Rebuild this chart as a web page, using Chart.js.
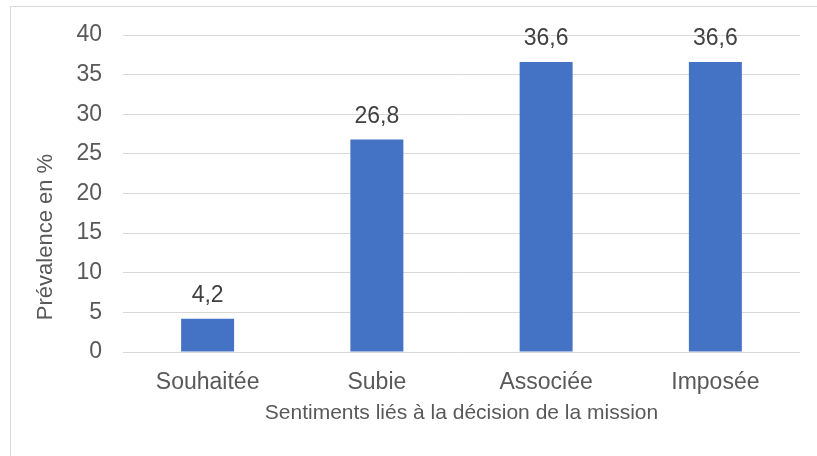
<!DOCTYPE html>
<html>
<head>
<meta charset="utf-8">
<script src="https://cdn.jsdelivr.net/npm/chart.js@4"></script>
<style>
  html, body { margin: 0; padding: 0; background: #fff; }
  #wrap { position: relative; width: 817px; height: 456px; overflow: hidden; }
  #frame { position: absolute; left: 10px; top: 6px; width: 900px; height: 500px; border: 1px solid #d9d9d9; }
  canvas { position: absolute; left: 0; top: 0; }
</style>
</head>
<body>
<div id="wrap">
  <div id="frame"></div>
  <canvas id="chart1" width="817" height="456"></canvas>
</div>
<script>
var categories = ['Souhaitée', 'Subie', 'Associée', 'Imposée'];
var prevalence = [4.2, 26.8, 36.6, 36.6];
var yTicks = [0, 5, 10, 15, 20, 25, 30, 35, 40];

var fontName = "'Liberation Sans', Arial, sans-serif";

// data labels above bars, french decimal comma
const barLabels = {
  id: 'barLabels',
  afterDatasetsDraw(chart) {
    const ctx = chart.ctx;
    const meta = chart.getDatasetMeta(0);
    ctx.save();
    ctx.font = '23px ' + fontName;
    ctx.fillStyle = '#404040';
    ctx.textAlign = 'center';
    ctx.textBaseline = 'alphabetic';
    meta.data.forEach(function(bar, i) {
      var txt = prevalence[i].toFixed(1).replace('.', ',');
      ctx.fillText(txt, bar.x, bar.y - 17);
    });
    ctx.restore();
  }
};

// y axis title sits lower than centre in the original
const yTitle = {
  id: 'yTitle',
  afterDraw(chart) {
    const ctx = chart.ctx;
    ctx.save();
    ctx.translate(46, 237);
    ctx.rotate(-Math.PI / 2);
    ctx.font = '22px ' + fontName;
    ctx.fillStyle = '#595959';
    ctx.textAlign = 'center';
    ctx.textBaseline = 'middle';
    ctx.fillText('Prévalence en %', 0, 0);
    ctx.restore();
  }
};

const ch1 = document.getElementById('chart1').getContext('2d');
const chart1 = new Chart(ch1, {
  type: 'bar',
  data: {
    labels: categories,
    datasets: [{
      label: 'Prévalence',
      data: prevalence,
      backgroundColor: '#4472C4',
      borderWidth: 0,
      categoryPercentage: 1,
      barPercentage: 0.313
    }]
  },
  options: {
    responsive: false,
    animation: false,
    layout: { padding: { left: 10, right: 17, top: 35, bottom: 30 } },
    plugins: {
      legend: { display: false },
      tooltip: { enabled: false }
    },
    scales: {
      x: {
        grid: { display: false, drawTicks: false },
        border: { display: false },
        ticks: {
          color: '#595959',
          font: { family: fontName, size: 23 },
          padding: 17,
          maxRotation: 0
        },
        title: {
          display: true,
          text: 'Sentiments liés à la décision de la mission',
          color: '#595959',
          font: { family: fontName, size: 21 },
          padding: 0
        },
        afterFit: function(s) { s.height = 456 - 352 - 30; }
      },
      y: {
        min: 0,
        max: 40,
        afterBuildTicks: function(s) {
          s.ticks = yTicks.map(function(v) { return { value: v }; });
        },
        grid: { color: '#d9d9d9', lineWidth: 1, drawTicks: false },
        border: { display: false },
        ticks: {
          color: '#595959',
          font: { family: fontName, size: 23 },
          padding: 21
        },
        afterFit: function(s) { s.width = 123 - 10; }
      }
    }
  },
  plugins: [barLabels, yTitle]
});
</script>
</body>
</html>
